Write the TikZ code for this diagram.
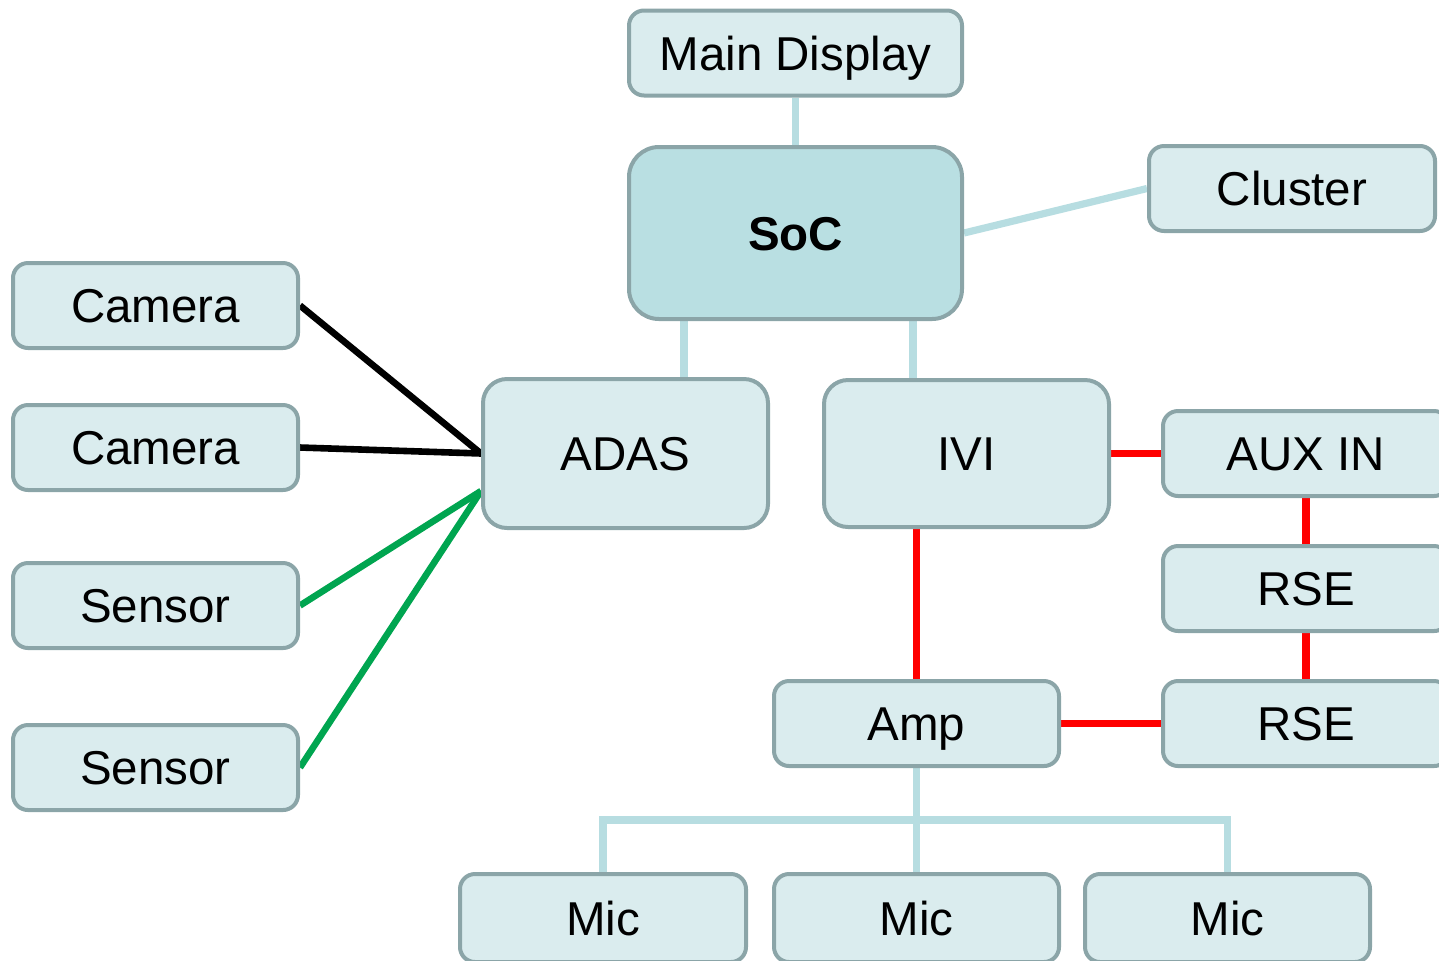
\documentclass[tikz,border=0pt]{standalone}
\usepackage{fontspec}
\setmainfont{Liberation Sans}
\usetikzlibrary{backgrounds}
\definecolor{boxfill}{HTML}{DAECEE}
\definecolor{boxline}{HTML}{8BA5A8}
\definecolor{socfill}{HTML}{B9DFE2}
\definecolor{linklight}{HTML}{B7DDE1}
\definecolor{linkred}{HTML}{FF0000}
\definecolor{linkgreen}{HTML}{00A550}
\tikzset{
  unitbox/.style={draw=boxline, fill=boxfill, line width=2pt, rounded corners=7.5pt,
    minimum width=142.5pt, minimum height=42.5pt, inner sep=1pt,
    text height=17pt, text depth=0pt,
    font=\fontsize{23.75pt}{28pt}\selectfont},
  socbox/.style={unitbox, fill=socfill, rounded corners=15pt,
    font=\fontsize{23.75pt}{28pt}\selectfont\bfseries},
  lightlink/.style={draw=linklight, line width=3.6pt},
  redlink/.style={draw=linkred, line width=3.6pt},
  greenlink/.style={draw=linkgreen, line width=3.3pt},
  blacklink/.style={draw=black, line width=3.3pt}
}
\begin{document}
\begin{tikzpicture}[x=0.5pt, y=-0.5pt]
\clip (0,0) rectangle (1439,960);
\useasboundingbox (0,0) rectangle (1439,960);

% head unit and displays
\node[unitbox, minimum width=166.5pt] (md) at (795.5,53) {Main Display};
\node[socbox, minimum width=166.5pt, minimum height=86pt] (soc) at (795.5,233) {SoC};
\node[unitbox, minimum width=143pt] (cluster) at (1292,188.5) {Cluster};

% driver assistance branch
\node[unitbox] (cam1) at (155.5,305.5) {Camera};
\node[unitbox] (cam2) at (155.5,447.5) {Camera};
\node[unitbox] (sen1) at (155.5,605.5) {Sensor};
\node[unitbox] (sen2) at (155.5,767.5) {Sensor};
\node[unitbox, minimum height=74.5pt, rounded corners=12pt] (adas) at (625.5,453.5) {ADAS};

% infotainment branch
\node[unitbox, minimum height=73.5pt, rounded corners=12pt] (ivi) at (966.5,453.5) {IVI};
\node[unitbox, minimum width=143pt] (aux) at (1306,453.5) {AUX IN};
\node[unitbox, minimum width=143pt] (rse1) at (1306,588.5) {RSE};
\node[unitbox, minimum width=143pt] (rse2) at (1306,723.5) {RSE};
\node[unitbox] (amp) at (916.5,723.5) {Amp};

% microphones
\node[unitbox, minimum width=143pt, minimum height=44pt] (mic1) at (603,918) {Mic};
\node[unitbox, minimum height=44pt] (mic2) at (916.5,918) {Mic};
\node[unitbox, minimum height=44pt] (mic3) at (1227.5,918) {Mic};
\coordinate (bus) at (916.5,820);

\begin{scope}[on background layer]
  % SoC links
  \draw[lightlink] (md.south) -- (soc.north);
  \draw[lightlink] (soc.east) -- (cluster.west);
  \draw[lightlink] ([xshift=29.25pt]adas.north) -- ([xshift=29.25pt]adas.north |- soc.south);
  \draw[lightlink] ([xshift=-26.75pt]ivi.north) -- ([xshift=-26.75pt]ivi.north |- soc.south);
  % cameras and sensors
  \draw[blacklink] (cam1.east) -- (adas.west);
  \draw[blacklink] (cam2.east) -- (adas.west);
  \draw[greenlink] (sen1.east) -- ([yshift=-18.75pt]adas.west);
  \draw[greenlink] (sen2.east) -- ([yshift=-18.75pt]adas.west);
  % audio chain
  \draw[redlink] (ivi.east) -- (aux.west);
  \draw[redlink] (aux.south) -- (rse1.north);
  \draw[redlink] (rse1.south) -- (rse2.north);
  \draw[redlink] (amp.north) -- (amp.north |- ivi.south);
  \draw[redlink] (amp.east) -- (rse2.west);
  % microphone bus
  \draw[lightlink] (amp.south) -- (mic2.north);
  \draw[lightlink] (mic1.north) |- (bus) -| (mic3.north);
\end{scope}
\end{tikzpicture}
\end{document}
